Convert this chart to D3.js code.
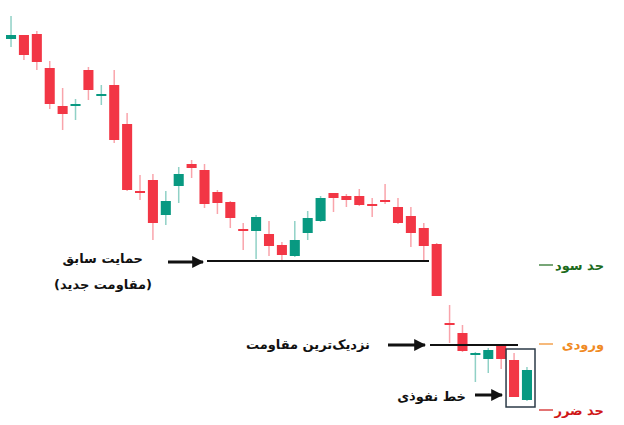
<!DOCTYPE html><html><head><meta charset="utf-8"><script src="https://cdn.jsdelivr.net/npm/d3@7"></script>
<style>body{margin:0;background:#fff}text{font-family:"DejaVu Sans",sans-serif;font-weight:bold}</style></head><body><svg id="c" width="624" height="425"></svg>
<script>
const opens=[401,405,406,372,334,335,370,345,355,316,249,260,225,254,276,270,248,238,211,209,206,195,184,207,219,247,244,244,236,240,233,224,212,196,117,107,85,81,94,80,40];
const closes=[405,385,378,336,326,336,350,346,300,250,247,217,239,266,272,236,237,222,209,223,194,185,200,222,242,242,240,235,234,238,217,207,194,144,115,89,87,90,81,43,70];
const highs=[424,405,409,379,352,341,373,355,370,327,265,266,249,273,280,276,250,239,217,225,219,198,219,229,244,247,246,251,242,256,242,233,217,197,135,115,88,92,94,87,73];
const lows=[393,380,370,331,310,320,340,335,297,249,240,200,215,237,262,232,226,212,190,181,184,178,183,200,218,228,233,234,223,236,216,193,180,144,97,88,58,67,71,43,39];
const levels=[{y:179,x1:207,x2:429},{y:95,x1:430,x2:518}];
const svg=d3.select("#c");
const idx=d3.range(opens.length);
const x=d3.scaleBand().domain(idx).range([6,532]).paddingInner(0.22).paddingOuter(0);
const y=d3.scaleLinear().domain([440,15]).range([0,425]);
const G="#089981",R="#f23645";
const col=i=>closes[i]>=opens[i]?G:R;
const cx=i=>x(i)+x.bandwidth()/2;
svg.selectAll(".w").data(idx).join("line").attr("x1",cx).attr("x2",cx).attr("y1",i=>y(highs[i])).attr("y2",i=>y(lows[i])).attr("stroke",col).attr("stroke-opacity",0.45).attr("stroke-width",1.5);
svg.selectAll(".b").data(idx).join("rect").attr("x",i=>x(i)).attr("width",x.bandwidth()).attr("y",i=>y(Math.max(opens[i],closes[i]))).attr("height",i=>Math.max(2,Math.abs(y(opens[i])-y(closes[i])))).attr("fill",col);
levels.forEach(l=>svg.append("line").attr("x1",l.x1).attr("x2",l.x2).attr("y1",y(l.y)).attr("y2",y(l.y)).attr("stroke","#111").attr("stroke-width",2));
svg.append("rect").attr("x",x(39)-3).attr("y",y(91)).attr("width",x(40)+x.bandwidth()-x(39)+6).attr("height",y(33)-y(91)).attr("fill","none").attr("stroke","#2b3a47").attr("stroke-width",1.5);
svg.append("defs").append("marker").attr("id","ah").attr("viewBox","0 0 10 10").attr("refX",9).attr("refY",5).attr("markerWidth",4).attr("markerHeight",4).attr("orient","auto").append("path").attr("d","M0,0L10,5L0,10z").attr("fill","#111");
[[168,203,262],[388,425,345],[475,502,395]].forEach(a=>svg.append("line").attr("x1",a[0]).attr("x2",a[1]).attr("y1",a[2]).attr("y2",a[2]).attr("stroke","#111").attr("stroke-width",3).attr("marker-end","url(#ah)"));
const T=(t,xx,yy,c)=>svg.append("text").attr("x",xx).attr("y",yy).attr("text-anchor","end").attr("font-size",13).attr("fill",c||"#111").text(t);
T("حمایت سابق",143,263);T("(مقاومت جدید)",152,289);T("نزدیک‌ترین مقاومت",370,349);T("خط نفوذی",466,401);
[["حد سود","#1d6b1d",265],["ورودی","#f08a24",344],["حد ضرر","#d01818",410]].forEach(r=>{svg.append("line").attr("x1",539).attr("x2",553).attr("y1",r[2]).attr("y2",r[2]).attr("stroke",r[1]).attr("stroke-width",1.2);T(r[0],604,r[2]+5,r[1]);});
</script></body></html>
